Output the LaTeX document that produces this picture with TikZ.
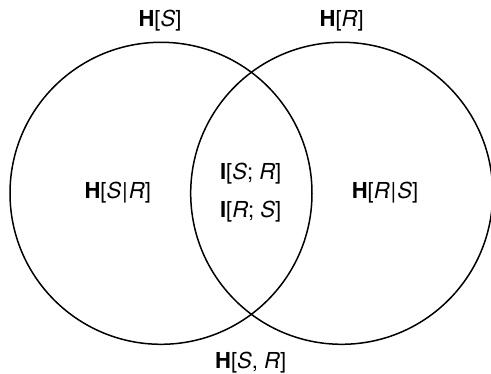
\documentclass[tikz,border=0pt]{standalone}
\usepackage{fontspec}
\setmainfont{TeX Gyre Heros}
\begin{document}
\begin{tikzpicture}[x=1pt,y=1pt,
  setc/.style={draw=black, line width=1.5pt, circle, minimum size=302pt, inner sep=0pt},
  lbl/.style={font=\fontsize{22}{26}\selectfont, inner sep=0pt}]
\useasboundingbox (0,0) rectangle (491,374);
\node[setc] (cS) at (161,180.7) {};
\node[setc] (cR) at (341.7,180.7) {};
\node[lbl] (hS) at (160,353.3) {\textbf{H}[\textit{S}]};
\node[lbl] (hR) at (341.7,353.3) {\textbf{H}[\textit{R}]};
\node[lbl] (hSR) at (117.7,181) {\textbf{H}[\textit{S}\kern1pt|\kern1pt\textit{R}]};
\node[lbl] (hRS) at (385,181) {\textbf{H}[\textit{R}\kern1pt|\kern1pt\textit{S}]};
\node[lbl] (iSR) at (250.7,200) {\textbf{I}[\textit{S}; \textit{R}]};
\node[lbl] (iRS) at (250.7,162) {\textbf{I}[\textit{R}; \textit{S}]};
\node[lbl] (hjoint) at (250.7,11.3) {\textbf{H}[\textit{S}, \textit{R}]};
\end{tikzpicture}
\end{document}
